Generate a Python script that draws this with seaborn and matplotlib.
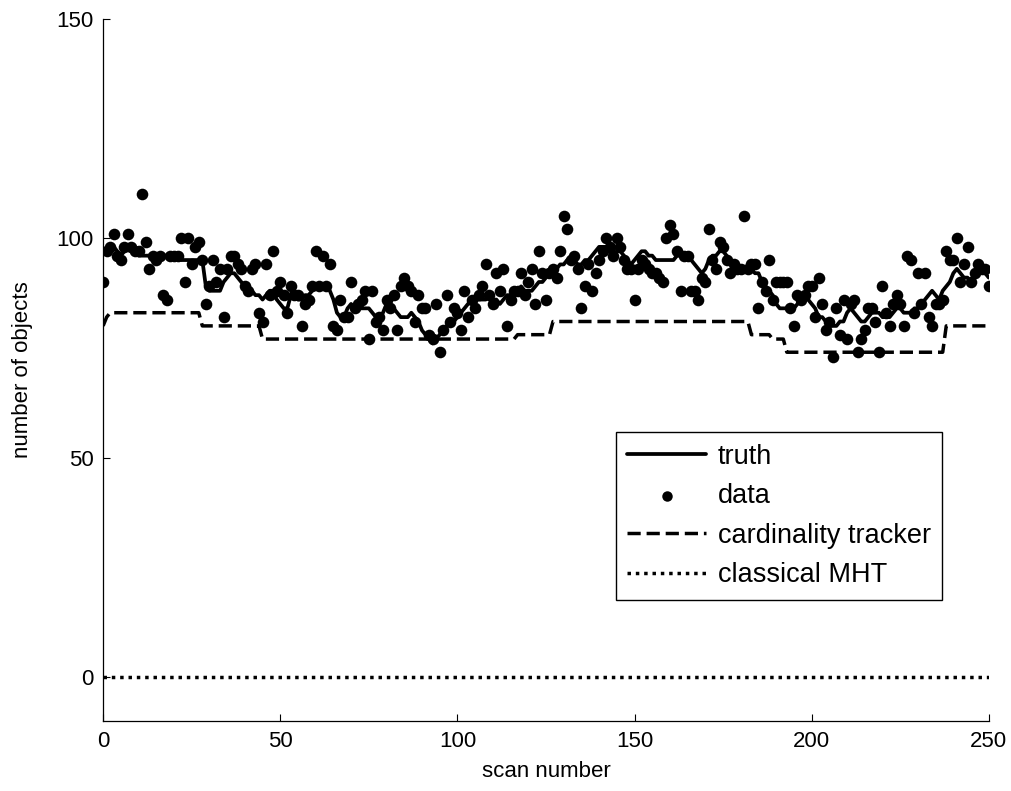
import numpy as np
import pandas as pd
import matplotlib
matplotlib.use('Agg')
import matplotlib.pyplot as plt
import seaborn as sns

# true number of objects per scan (scan 0..250)
truth = [97, 97, 98, 98, 97, 96, 97, 98, 97, 97, 96, 96, 96,
         96, 96, 96, 96, 96, 96, 96, 96, 96, 95, 95, 95,
         95, 95, 95, 95, 89, 88, 88, 88, 88, 90, 91, 92, 92, 91, 90,
         89, 89, 88, 87, 87, 86, 87, 88, 88, 86, 85, 84, 84, 87,
         88, 86, 86, 87, 87, 88, 89, 89, 89, 89, 88, 86, 83, 82,
         82, 84, 85, 84, 84, 84, 84, 84, 83, 82, 82, 83, 85, 85, 84,
         83, 82, 82, 82, 83, 82, 81, 79, 78, 77, 76, 77, 78, 79, 80,
         81, 81, 82, 83, 84, 85, 86, 86, 86, 86, 86, 87, 86, 86, 85,
         86, 87, 87, 88, 88, 89, 88, 88, 88, 89, 90, 90, 91, 92, 93,
         93, 94, 94, 95, 95, 95, 94, 94, 95, 95, 96, 97, 98, 98, 98,
         97, 96, 97, 97, 96, 95, 94, 95, 96, 97, 97, 96, 96, 95, 95,
         95, 95, 95, 95, 96, 96, 96, 96, 95, 94, 93, 92, 93, 95, 96,
         96, 97, 97, 96, 95, 94, 93, 93, 93, 93, 93, 92, 92, 90, 89,
         88, 87, 85, 84, 84, 84, 84, 84, 85, 87, 86, 86, 85, 84, 82,
         82, 81, 81, 80, 80, 81, 81, 83, 84, 83, 82, 81, 81, 82, 83,
         83, 83, 82, 82, 82, 83, 84, 84, 83, 83, 83, 84, 84, 85, 86,
         87, 88, 87, 86, 88, 89, 90, 92, 93, 92, 91, 91, 90, 92, 93,
         93, 92, 91]

# measured number of objects per scan
data = [90, 97, 98, 101, 96, 95, 98, 101, 98, 97, 97, 110, 99, 93, 96,
        95, 96, 87, 86, 96, 96, 96, 100, 90, 100, 94, 98, 99, 95, 85,
        89, 95, 90, 93, 82, 93, 96, 96, 94, 93, 89, 88, 93, 94, 83,
        81, 94, 87, 97, 88, 90, 87, 83, 89, 87, 87, 80, 85, 86, 89,
        97, 89, 96, 89, 94, 80, 79, 86, 82, 82, 90, 84, 85, 86, 88,
        77, 88, 81, 82, 79, 86, 84, 87, 79, 89, 91, 89, 88, 81, 87,
        84, 84, 78, 77, 85, 74, 79, 87, 81, 84, 83, 79, 88, 82, 86,
        84, 87, 89, 94, 87, 85, 92, 88, 93, 80, 86, 88, 88, 92, 87,
        90, 93, 85, 97, 92, 86, 92, 93, 91, 97, 105, 102, 95, 96, 93,
        84, 89, 94, 88, 92, 95, 97, 100, 98, 96, 100, 98, 95, 93, 93,
        86, 93, 95, 94, 93, 92, 92, 91, 90, 100, 103, 101, 97, 88, 96,
        96, 88, 88, 86, 91, 90, 102, 95, 93, 99, 98, 95, 92, 94, 93,
        93, 105, 93, 94, 94, 84, 90, 88, 95, 86, 90, 90, 90, 90, 84,
        80, 87, 86, 87, 89, 89, 82, 91, 85, 79, 81, 73, 84, 78, 86,
        77, 85, 86, 74, 77, 79, 84, 84, 81, 74, 89, 83, 80, 85, 87,
        85, 80, 96, 95, 83, 92, 85, 92, 82, 80, 85, 85, 86, 97, 95,
        95, 100, 90, 94, 98, 90, 92, 94, 93, 93, 89]

# cardinality tracker estimate: levels and how many scans each lasts
tracker_levels = [80, 82, 83, 80, 77, 78, 81, 78, 77, 74, 80]
tracker_counts = [1, 1, 26, 17, 72, 10, 56, 6, 4, 45, 13]

# classical MHT estimate
mht_levels = [0]
mht_counts = [251]

tracker = np.repeat(tracker_levels, tracker_counts)
mht = np.repeat(mht_levels, mht_counts)

df_truth = pd.DataFrame({'scan': np.arange(len(truth)), 'n': truth})
df_data = pd.DataFrame({'scan': np.arange(len(data)), 'n': data})
df_track = pd.DataFrame({'scan': np.arange(len(tracker)), 'n': tracker})
df_mht = pd.DataFrame({'scan': np.arange(len(mht)), 'n': mht})

sns.set_theme(style='white')
plt.rcParams['font.family'] = ['Liberation Sans', 'DejaVu Sans']
plt.rcParams['text.color'] = 'black'
plt.rcParams['axes.labelcolor'] = 'black'

fig = plt.figure(figsize=(10.11, 7.91), dpi=100)
ax = fig.add_axes([0.102, 0.0885, 0.876, 0.888])

sns.lineplot(data=df_truth, x='scan', y='n', ax=ax, color='black',
             linewidth=2.7, label='truth', estimator=None)
sns.scatterplot(data=df_data, x='scan', y='n', ax=ax, color='black',
                s=70, linewidth=0, label='data', zorder=3)
sns.lineplot(data=df_track, x='scan', y='n', ax=ax, color='black',
             linewidth=2.5, dashes=False, label='cardinality tracker', estimator=None)
sns.lineplot(data=df_mht, x='scan', y='n', ax=ax, color='black',
             linewidth=2.5, label='classical MHT', estimator=None)

lines = ax.get_lines()
lines[1].set_dashes((3.8, 1.7))
lines[2].set_linestyle((0, (1.0, 1.4)))

ax.set_xlim(0, 250)
ax.set_ylim(-10, 150)
ax.set_xticks([0, 50, 100, 150, 200, 250])
ax.set_yticks([0, 50, 100, 150])
ax.set_xlabel('scan number', fontsize=16, labelpad=7, color='black')
ax.set_ylabel('number of objects', fontsize=16, labelpad=17, color='black')
ax.tick_params(direction='in', length=5, width=0.8, labelsize=16,
               colors='black', pad=7, left=True, bottom=True)
for side in ['top', 'right']:
    ax.spines[side].set_visible(False)
for side in ['left', 'bottom']:
    ax.spines[side].set_color('black')
    ax.spines[side].set_linewidth(0.9)

handles, labels = ax.get_legend_handles_labels()
leg = ax.legend(handles, labels, loc='upper left', bbox_to_anchor=(0.579, 0.411),
                fontsize=19.5, frameon=True, fancybox=False, framealpha=1,
                edgecolor='black', handlelength=2.9, handletextpad=0.44,
                labelspacing=0.5, borderpad=0.42, borderaxespad=0,
                markerscale=0.9)
leg.get_frame().set_linewidth(1.0)
for t in leg.get_texts():
    t.set_color('black')

fig.savefig('out.png', dpi=100)
